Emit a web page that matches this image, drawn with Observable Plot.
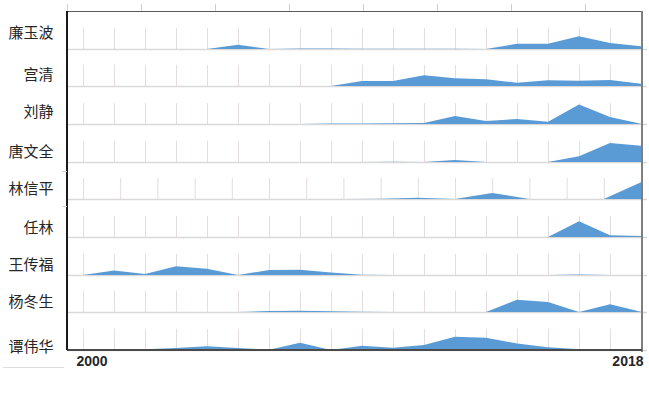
<!DOCTYPE html>
<html>
<head>
<meta charset="utf-8">
<script src="https://cdn.jsdelivr.net/npm/d3@7"></script>
<script src="https://cdn.jsdelivr.net/npm/@observablehq/plot@0.6"></script>
<style>
  html, body { margin: 0; padding: 0; background: #ffffff; }
  #chart { position: relative; width: 649px; height: 394px; overflow: hidden; background: #fff; }
  .row { position: absolute; left: 0; }
  .deco { position: absolute; }
</style>
</head>
<body>
<div id="chart"></div>
<script>
// ---------- data ----------
const names = ["廉玉波", "宫清", "刘静", "唐文全", "林信平", "任林", "王传福", "杨冬生", "谭伟华"];

const yearsAll = [2000, 2001, 2002, 2003, 2004, 2005, 2006, 2007, 2008, 2009,
                  2010, 2011, 2012, 2013, 2014, 2015, 2016, 2017, 2018];
const yearsLin = [2003, 2004, 2005, 2006, 2007, 2008, 2009, 2010,
                  2011, 2012, 2013, 2014, 2015, 2016, 2017, 2018];

const lianYuBo   = [0, 0, 0, 0, 0, 4.3, 0, 0.4, 0.4, 0.3, 0.2, 0.2, 0.2, 0, 5.3, 5.3, 12.7, 6, 2.7];
const gongQing   = [0, 0, 0, 0, 0, 0, 0, 0, 0, 5, 5, 10.7, 7.7, 6.7, 3.2, 5.7, 5.3, 6, 2.2];
const liuJing    = [0, 0, 0, 0, 0, 0, 0, 0.1, 0.4, 0.5, 0.7, 1, 8, 3, 5, 2.2, 19.5, 7, 0.3];
const tangWenQuan= [0, 0, 0, 0, 0, 0, 0, 0, 0, 0.1, 0.3, 0, 2, 0, 0, 0, 5.7, 19, 16.3];
const linXinPing = [0, 0, 0, 0, 0, 0, 0, 0, 0.2, 1.2, 0, 6, 0, 0, 0, 16.7];
const renLin     = [0, 0, 0, 0, 0, 0, 0, 0, 0, 0, 0, 0, 0, 0, 0, 0, 15.7, 1.7, 1];
const wangChuanFu= [0, 4.5, 1, 8.7, 6.2, 0, 5, 5.3, 2.5, 0.3, 0, 0, 0, 0, 0, 0, 0.4, 0, 0];
const yangDongSheng = [0, 0, 0, 0, 0, 0, 1, 1.2, 0.7, 0.3, 0, 0, 0, 0, 12.3, 10, 0, 7.7, 0.3];
const tanWeiHua  = [0, 0, 0.7, 2, 3.7, 2, 0.3, 7.3, 0, 4.2, 2.3, 5, 13.3, 12.3, 6.5, 2.7, 0.7, 0.3, 0];

const seriesValues = [lianYuBo, gongQing, liuJing, tangWenQuan, linXinPing, renLin, wangChuanFu, yangDongSheng, tanWeiHua];
const seriesYears  = [yearsAll, yearsAll, yearsAll, yearsAll, yearsLin, yearsAll, yearsAll, yearsAll, yearsAll];
const axisLabels = [2000, 2018];
const topTicks = [0, 1, 2, 3, 4, 5, 6, 7];

// ---------- layout ----------
const W = 649;
const plotTop = 11, rowStep = 37.667;
const xLeft = 83, xRight = 641;
const labelCenters = [32, 75, 112, 151, 189, 228, 264, 302, 347];
const cjk = "'Noto Sans CJK SC', 'Noto Sans', sans-serif";

const chart = document.getElementById("chart");

names.forEach((name, i) => {
  const baseline = plotTop + rowStep * (i + 1);
  const yrs = seriesYears[i];
  const pts = yrs.map((y, j) => ({year: y, value: seriesValues[i][j]}));
  const grid = yrs.slice(0, -1);
  const last = i === names.length - 1;
  const marks = [
    Plot.ruleX(grid, {x: d => d, y1: 0, y2: 21, stroke: "#e3dce0", strokeWidth: 1}),
    Plot.ruleY([0], {stroke: "#d9d9d9", strokeWidth: 1.5}),
    Plot.areaY(pts, {x: "year", y: "value", fill: "#5b9bd5"}),
    Plot.text([name], {
      frameAnchor: "left", dx: -14, dy: labelCenters[i] - (baseline - 10.5),
      textAnchor: "end", fontSize: 15, fill: "#262626", fontFamily: cjk
    })
  ];
  if (last) {
    marks.push(Plot.text([axisLabels[0]], {
      x: d => d, frameAnchor: "bottom", dy: 15, dx: -7, text: d => String(d),
      textAnchor: "start", fontSize: 14, fontWeight: "bold", fill: "#262626",
      fontFamily: "'Liberation Sans', Arial, sans-serif"
    }));
    marks.push(Plot.text([axisLabels[1]], {
      x: d => d, frameAnchor: "bottom", dy: 15, dx: 2, text: d => String(d),
      textAnchor: "end", fontSize: 14, fontWeight: "bold", fill: "#262626",
      fontFamily: "'Liberation Sans', Arial, sans-serif"
    }));
  }
  const svg = Plot.plot({
    width: W, height: 40,
    marginTop: 17, marginBottom: 2, marginLeft: 67, marginRight: 2,
    x: {domain: [yrs[0], yrs[yrs.length - 1]], range: [xLeft, xRight], axis: null},
    y: {domain: [0, 21], axis: null},
    style: {background: "transparent", overflow: "visible", fontFamily: cjk},
    marks
  });
  const wrap = document.createElement("div");
  wrap.className = "row";
  wrap.style.top = (baseline - 38) + "px";
  wrap.appendChild(svg);
  chart.appendChild(wrap);
});

// ---------- frame decorations ----------
function deco(left, top, width, height, color) {
  const d = document.createElement("div");
  d.className = "deco";
  Object.assign(d.style, {left: left + "px", top: top + "px", width: width + "px", height: height + "px", background: color});
  chart.appendChild(d);
}
const bottom = plotTop + rowStep * names.length;
// top ticks
const tickStep = 74;
topTicks.forEach(t => deco(67 + t * tickStep, 4, 1, 7, "#d0d0d0"));
deco(67, plotTop - 0.5, xRight - 67, 1.5, "#595959");            // top border
deco(xRight - 0.5, plotTop, 2, bottom - plotTop + 2, "#7f7f7f"); // right border
deco(67, bottom - 1, xRight - 67 + 1, 2, "#4a4a4a");              // bottom border
deco(66, plotTop, 2, bottom - plotTop, "#1a1a1a");                // left axis
deco(62, 170.5, 5, 1, "#d0d0d0");
deco(62, 205.5, 5, 1, "#d0d0d0");
deco(3, 366.5, 61, 1.5, "#dcdcdc");
</script>
</body>
</html>
